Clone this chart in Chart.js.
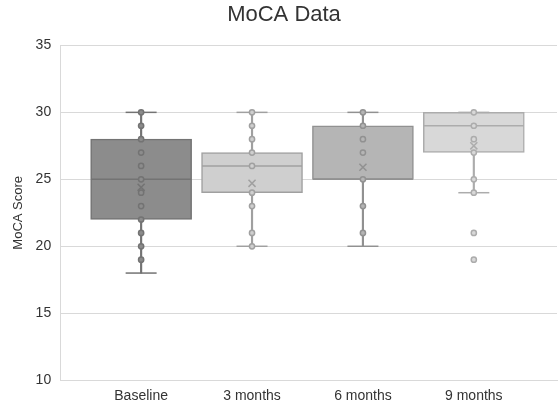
<!DOCTYPE html>
<html>
<head>
<meta charset="utf-8">
<script src="https://cdn.jsdelivr.net/npm/chart.js@4/dist/chart.umd.min.js"></script>
<style>
  html, body { margin: 0; padding: 0; background: #fff; }
  #wrap { width: 558px; height: 409px; }
</style>
</head>
<body>
<div id="wrap"><canvas id="mocaChart"></canvas></div>
<script>
// categories and box statistics
var groups = ["Baseline", "3 months", "6 months", "9 months"];
var whiskerLow = [18, 20, 20, 24];
var whiskerHigh = [30, 30, 30, 30];
var q1 = [22, 24, 25, 27];
var q3 = [28, 27, 29, 30];
var medians = [25, 26, 25, 29];
var means = [24.4, 24.7, 25.9, 27.5];

// individual scores plotted on each box
var ptsBaseline = [30, 29, 28, 27, 26, 25, 24, 23, 22, 21, 20, 19];
var pts3m = [30, 29, 28, 27, 26, 24, 23, 21, 20];
var pts6m = [30, 29, 28, 27, 25, 23, 21];
var pts9m = [30, 29, 28, 27, 25, 24, 21, 19];

var yTicks = [10, 15, 20, 25, 30, 35];

var fills = ['rgb(140,140,140)', 'rgb(207,207,207)', 'rgb(181,181,181)', 'rgb(216,216,216)'];
var edges = ['rgb(115,115,115)', 'rgb(160,160,160)', 'rgb(145,145,145)', 'rgb(172,172,172)'];

function pos(i) { return i + 1; }

var allPts = [ptsBaseline, pts3m, pts6m, pts9m];
var ptData = [], ptBorder = [], ptFill = [];
allPts.forEach(function (arr, i) {
    arr.forEach(function (v) {
        ptData.push({ x: pos(i), y: v });
        ptBorder.push(edges[i]);
        ptFill.push(fills[i]);
    });
});

var capData = [], capColor = [];
groups.forEach(function (g, i) {
    capData.push({ x: pos(i), y: whiskerLow[i] });
    capData.push({ x: pos(i), y: whiskerHigh[i] });
    capColor.push(edges[i], edges[i]);
});

var ctx = document.getElementById("mocaChart");
var chart = new Chart(ctx, {
    type: 'bar',
    data: {
        datasets: [
            {
                // whisker stems, behind the boxes
                type: 'bar',
                order: 5,
                grouped: false,
                data: groups.map(function (g, i) { return { x: pos(i), y: [whiskerLow[i], whiskerHigh[i]] }; }),
                backgroundColor: edges,
                barThickness: 1.5
            },
            {
                // boxes q1..q3
                type: 'bar',
                order: 4,
                grouped: false,
                data: groups.map(function (g, i) { return { x: pos(i), y: [q1[i], q3[i]] }; }),
                backgroundColor: fills,
                borderColor: edges,
                borderWidth: 1.5,
                borderSkipped: false,
                barThickness: 101
            },
            {
                // whisker caps
                type: 'line',
                order: 3,
                showLine: false,
                clip: false,
                data: capData,
                pointStyle: 'line',
                pointRadius: 15.5,
                pointBorderWidth: 1.5,
                pointBorderColor: capColor
            },
            {
                // medians
                type: 'line',
                order: 2,
                showLine: false,
                clip: false,
                data: groups.map(function (g, i) { return { x: pos(i), y: medians[i] }; }),
                pointStyle: 'line',
                pointRadius: 50,
                pointBorderWidth: 1.5,
                pointBorderColor: edges
            },
            {
                // individual scores
                type: 'line',
                order: 1,
                showLine: false,
                clip: false,
                data: ptData,
                pointStyle: 'circle',
                pointRadius: 2.6,
                pointBorderWidth: 1.5,
                pointBorderColor: ptBorder,
                pointBackgroundColor: ptFill
            },
            {
                // means
                type: 'line',
                order: 0,
                showLine: false,
                clip: false,
                data: groups.map(function (g, i) { return { x: pos(i), y: means[i] }; }),
                pointStyle: 'crossRot',
                pointRadius: 5,
                pointBorderWidth: 1.5,
                pointBorderColor: edges
            }
        ]
    },
    options: {
        responsive: true,
        maintainAspectRatio: false,
        animation: false,
        layout: { autoPadding: false, padding: { left: 11, right: 1, top: 0, bottom: -4 } },
        plugins: {
            legend: { display: false },
            tooltip: { enabled: false },
            title: {
                display: true,
                text: 'MoCA Data',
                color: '#333',
                font: { family: 'Liberation Sans, Arial', size: 22, weight: 'normal' },
                padding: { top: 2, bottom: 17 }
            }
        },
        scales: {
            x: {
                type: 'linear',
                offset: false,
                min: 0.27,
                max: 4.75,
                afterBuildTicks: function (axis) {
                    axis.ticks = groups.map(function (g, i) { return { value: pos(i) }; });
                },
                ticks: {
                    color: '#333',
                    font: { family: 'Liberation Sans, Arial', size: 14 },
                    padding: 8,
                    maxRotation: 0,
                    callback: function (v) { return groups[v - 1] || ''; }
                },
                grid: { display: false, drawTicks: false },
                border: { color: '#d9d9d9' }
            },
            y: {
                min: 10,
                max: 35,
                afterBuildTicks: function (axis) {
                    axis.ticks = yTicks.map(function (v) { return { value: v }; });
                },
                ticks: {
                    color: '#333',
                    font: { family: 'Liberation Sans, Arial', size: 14 },
                    padding: 9
                },
                grid: { color: '#d9d9d9', drawTicks: false },
                border: { color: '#d9d9d9' },
                title: {
                    display: true,
                    text: 'MoCA Score',
                    color: '#333',
                    font: { family: 'Liberation Sans, Arial', size: 13 },
                    padding: { top: 0, bottom: 0 }
                }
            }
        }
    }
});
</script>
</body>
</html>
